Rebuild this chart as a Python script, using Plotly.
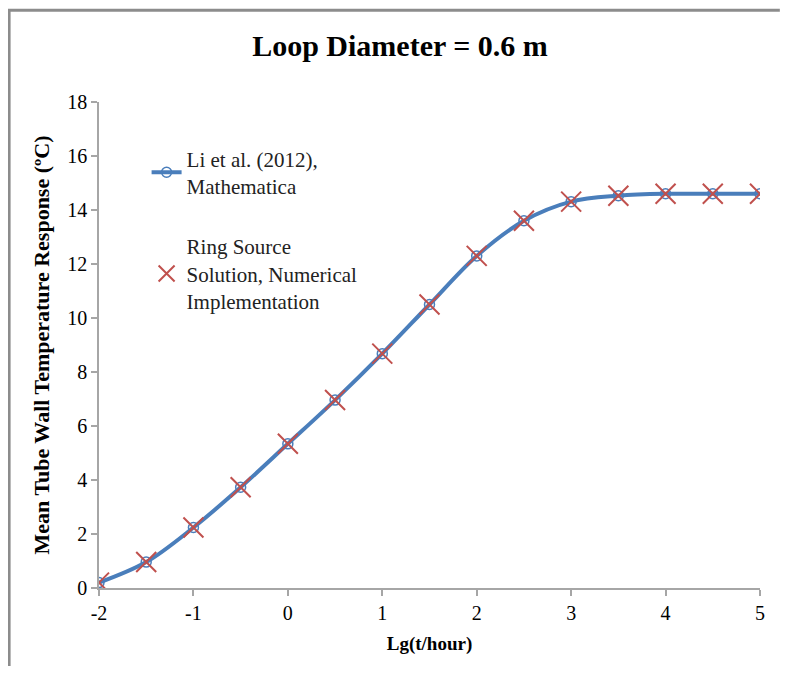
import plotly.graph_objects as go

lg_t = [-2, -1.5, -1, -0.5, 0, 0.5, 1, 1.5, 2, 2.5, 3, 3.5, 4, 4.5, 5]
li_mathematica = [0.2, 0.96, 2.24, 3.73, 5.34, 6.96, 8.68, 10.5, 12.3, 13.6, 14.31, 14.53, 14.6, 14.6, 14.6]
ring_source = [0.2, 0.96, 2.24, 3.73, 5.34, 6.96, 8.68, 10.5, 12.3, 13.6, 14.31, 14.53, 14.6, 14.6, 14.6]

FONT = "Liberation Serif, Times New Roman, serif"

fig = go.Figure()
fig.add_trace(go.Scatter(
    x=lg_t, y=li_mathematica, mode="lines+markers",
    name="Li et al. (2012),<br>Mathematica",
    line=dict(color="#4A7EBB", width=4, shape="spline"),
    marker=dict(symbol="circle-open", size=10, color="#4A7EBB", line=dict(width=1.5, color="#4A7EBB")),
    legendgroup="a",
))
fig.add_trace(go.Scatter(
    x=lg_t, y=ring_source, mode="markers",
    name="Ring Source<br>Solution, Numerical<br>Implementation",
    marker=dict(symbol="x-thin", size=20, color="#C0504D", line=dict(width=2, color="#C0504D")),
    legendgroup="b",
))

# outer chart frame: left edge and top edge
fig.add_shape(type="line", xref="paper", yref="paper",
              x0=-0.136, x1=-0.136, y0=-0.5, y1=1.189,
              line=dict(color="#8C8C8C", width=3), layer="below")
fig.add_shape(type="line", xref="paper", yref="paper",
              x0=-0.138, x1=1.03, y0=1.189, y1=1.189,
              line=dict(color="#8C8C8C", width=3), layer="below")

W, H = 775, 658
fig.update_layout(
    width=W, height=H,
    margin=dict(l=91, r=W - 752, t=94, b=H - 580),
    paper_bgcolor="white", plot_bgcolor="white",
    font=dict(family=FONT, size=20, color="black"),
    title=dict(text="<b>Loop Diameter = 0.6 m</b>", x=392 / W, xref="container", xanchor="center",
               y=1 - 37 / H, yref="container", yanchor="middle",
               font=dict(family=FONT, size=30, color="black")),
    showlegend=True,
    legend=dict(x=0.072, y=0.925, xanchor="left", yanchor="top",
                bgcolor="rgba(0,0,0,0)", tracegroupgap=30,
                font=dict(family=FONT, size=21, color="#222")),
    xaxis=dict(range=[-2, 5], tickmode="array", tickvals=[-2, -1, 0, 1, 2, 3, 4, 5],
               ticktext=["-2", "-1", "0", "1", "2", "3", "4", "5"],
               showgrid=False, zeroline=False, showline=True, linecolor="#A6A6A6", linewidth=1.5,
               ticks="outside", ticklen=6, tickcolor="#A6A6A6", tickwidth=1.5,
               tickfont=dict(family=FONT, size=20, color="black"),
               title=dict(text="<b>Lg(t/hour)</b>", font=dict(family=FONT, size=19, color="black"), standoff=14)),
    yaxis=dict(range=[0, 18], tickmode="array", tickvals=list(range(0, 19, 2)),
               showgrid=False, zeroline=False, showline=True, linecolor="#A6A6A6", linewidth=1.5,
               ticks="outside", ticklen=6, tickcolor="#A6A6A6", tickwidth=1.5,
               tickfont=dict(family=FONT, size=20, color="black"),
               title=dict(text="<b>Mean Tube Wall Temperature Response (ºC)</b>",
                          font=dict(family=FONT, size=22, color="black"), standoff=12)),
)

fig.write_html("out.html")
